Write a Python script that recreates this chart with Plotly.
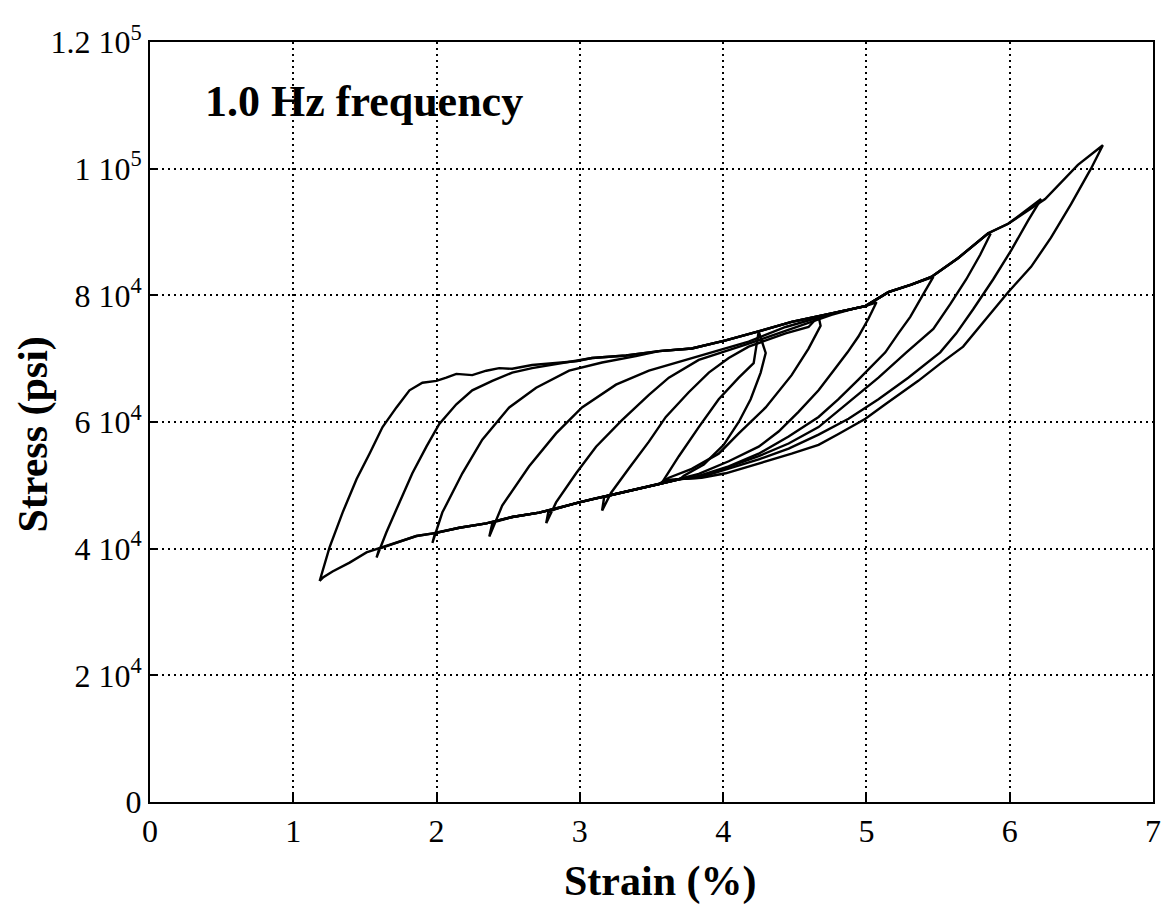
import plotly.graph_objects as go

# ---- loop extremes (strain %, stress psi) ----
min_strain = [1.184, 1.581, 1.971, 2.368, 2.765, 3.155, 3.572]
min_stress = [34900, 38600, 40900, 41900, 44000, 46000, 50400]
tip_strain = [6.650, 6.219, 5.864, 5.467, 5.070, 4.680, 4.297]
tip_stress = [103700, 95200, 89600, 82900, 78900, 75200, 70900]
hook_strain = [1.21, 1.60, 1.99, 2.39, 2.78, 3.17, 3.59]
hook_stress = [35500, 40000, 42500, 44100, 45800, 48200, 50800]

# ---- shared upper plateau (loading envelope) ----
ue_strain = [1.901, 1.999, 2.068, 2.138, 2.249, 2.347, 2.437, 2.528, 2.667, 2.806,
             2.974, 3.085, 3.322, 3.552, 3.781, 4.018, 4.248, 4.478, 4.666, 4.805,
             4.993, 5.153, 5.313, 5.453, 5.641, 5.850, 5.989, 6.247, 6.476]
ue_stress = [66200, 66500, 67000, 67600, 67400, 68100, 68500, 68400, 69000, 69300,
             69600, 70100, 70500, 71200, 71600, 72900, 74300, 75800, 76700, 77400,
             78300, 80500, 81700, 82900, 85900, 89800, 91300, 95200, 100600]

# ---- shared lower plateau (unloading envelope), right to left ----
le_strain = [3.700, 3.552, 3.433, 3.300, 3.203, 3.100, 2.994, 2.850, 2.716, 2.528,
             2.347, 2.159, 1.999, 1.859, 1.741, 1.602, 1.511, 1.393, 1.274]
le_stress = [51000, 50200, 49600, 48900, 48400, 47900, 47300, 46400, 45700, 45000,
             44000, 43300, 42500, 42000, 41100, 40000, 39400, 37800, 36400]

# ---- loading branches (from each minimum upward) ----
load1_strain = [1.253, 1.344, 1.442, 1.532, 1.623, 1.720, 1.811]
load1_stress = [40200, 45700, 51000, 55000, 59200, 62300, 65000]
load2_strain = [1.650, 1.741, 1.831, 1.929, 2.019, 2.138, 2.249, 2.389, 2.528, 2.667, 2.806]
load2_stress = [42600, 47300, 51900, 56100, 59700, 62800, 65000, 66500, 67800, 68500, 69000]
load3_strain = [2.040, 2.180, 2.319, 2.507, 2.695, 2.925, 3.155, 3.391]
load3_stress = [45700, 51900, 57200, 62300, 65400, 68100, 69400, 70400]
load4_strain = [2.458, 2.646, 2.834, 3.015, 3.252, 3.482, 3.830, 4.178, 4.436, 4.666]
load4_stress = [46800, 53000, 58200, 62300, 65900, 68100, 70400, 72700, 75000, 76500]
load5_strain = [2.834, 2.974, 3.113, 3.294, 3.482, 3.621, 3.830, 4.157, 4.436, 4.756, 4.944]
load5_stress = [47300, 51900, 56100, 60300, 64300, 67000, 69800, 72200, 74400, 76900, 78100]
load6_strain = [3.217, 3.343, 3.482, 3.600, 3.760, 3.900, 4.039, 4.178, 4.436, 4.596]
load6_stress = [48800, 52700, 56900, 60800, 64700, 67800, 70100, 71900, 74000, 75000]
load7_strain = [3.691, 3.830, 3.969, 4.109, 4.213]
load7_stress = [54600, 59200, 63600, 67000, 69300]

# ---- unloading branches (from each tip downward) ----
unload1_strain = [6.567, 6.428, 6.288, 6.149, 5.989, 5.850, 5.675, 5.520, 5.362, 5.132,
                  4.993, 4.805, 4.666, 4.478, 4.248, 4.018, 3.850]
unload1_stress = [100000, 94400, 89100, 84500, 80500, 76700, 71900, 69300, 66500, 62800,
                  60500, 58100, 56400, 55000, 53500, 51900, 51200]
unload2_strain = [6.128, 6.010, 5.884, 5.745, 5.627, 5.515, 5.292, 5.084, 4.875, 4.666,
                  4.457, 4.248, 4.039, 3.830]
unload2_stress = [91800, 87100, 82500, 77800, 74000, 71000, 67000, 63600, 60500, 58000,
                  55800, 54100, 52600, 51200]
unload3_strain = [5.794, 5.696, 5.585, 5.467, 5.279, 5.084, 4.875, 4.666, 4.457, 4.248,
                  4.039, 3.830]
unload3_stress = [86400, 82500, 78600, 74700, 71000, 67000, 63100, 59200, 56600, 54600,
                  52900, 51300]
unload4_strain = [5.397, 5.306, 5.223, 5.132, 4.944, 4.805, 4.666, 4.457, 4.248, 4.039, 3.830]
unload4_stress = [80200, 76600, 74000, 71000, 66700, 63600, 60800, 57700, 55000, 53000, 51500]
unload5_strain = [5.014, 4.944, 4.868, 4.770, 4.666, 4.526, 4.387, 4.248, 4.039, 3.830]
unload5_stress = [76300, 73500, 71000, 68100, 65000, 61600, 58500, 56100, 53800, 51800]
unload6_strain = [4.596, 4.478, 4.297, 4.109, 3.969, 3.781, 3.621]
unload6_stress = [71600, 67400, 62300, 58200, 55000, 52600, 51200]
unload7_strain = [4.262, 4.192, 4.109, 4.004, 3.865, 3.726]
unload7_stress = [67800, 63600, 60000, 56400, 53300, 51500]

x_ticks = [0, 1, 2, 3, 4, 5, 6, 7]
y_ticks = [0, 20000, 40000, 60000, 80000, 100000, 120000]
y_ticktext = ["0", "2 10<sup>4</sup>", "4 10<sup>4</sup>", "6 10<sup>4</sup>",
              "8 10<sup>4</sup>", "1 10<sup>5</sup>", "1.2 10<sup>5</sup>"]

loads = [(load1_strain, load1_stress), (load2_strain, load2_stress),
         (load3_strain, load3_stress), (load4_strain, load4_stress),
         (load5_strain, load5_stress), (load6_strain, load6_stress),
         (load7_strain, load7_stress)]
unloads = [(unload1_strain, unload1_stress), (unload2_strain, unload2_stress),
           (unload3_strain, unload3_stress), (unload4_strain, unload4_stress),
           (unload5_strain, unload5_stress), (unload6_strain, unload6_stress),
           (unload7_strain, unload7_stress)]

fig = go.Figure()
for k in range(7):
    lx, ly = loads[k]
    ux, uy = unloads[k]
    xs = [min_strain[k]] + list(lx)
    ys = [min_stress[k]] + list(ly)
    # follow upper plateau up to the tip
    for ex, ey in zip(ue_strain, ue_stress):
        if lx[-1] < ex < tip_strain[k]:
            xs.append(ex); ys.append(ey)
    xs.append(tip_strain[k]); ys.append(tip_stress[k])
    xs += list(ux); ys += list(uy)
    # follow lower plateau back to the minimum
    for ex, ey in zip(le_strain, le_stress):
        if hook_strain[k] + 0.04 < ex < ux[-1]:
            xs.append(ex); ys.append(ey)
    xs += [hook_strain[k], min_strain[k]]
    ys += [hook_stress[k], min_stress[k]]
    fig.add_trace(go.Scatter(x=xs, y=ys, mode="lines",
                             line=dict(color="black", width=2.4),
                             hoverinfo="skip", showlegend=False))

axis_common = dict(showline=True, linecolor="black", linewidth=2, mirror=True,
                   ticks="inside", ticklen=8, tickwidth=2, tickcolor="black",
                   showgrid=True, gridcolor="black", gridwidth=1.7,
                   griddash="2px,4px", zeroline=False, ticklabeloverflow="allow",
                   tickfont=dict(family="Liberation Serif", size=32, color="black"))

fig.update_xaxes(range=[0, 7], tickvals=x_ticks, **axis_common)
fig.update_yaxes(range=[0, 120000], tickvals=y_ticks, ticktext=y_ticktext, **axis_common)

fig.update_layout(
    width=1165, height=897,
    margin=dict(l=142, r=18, t=20, b=103),
    plot_bgcolor="white", paper_bgcolor="white",
    font=dict(family="Liberation Serif", size=32, color="black"),
    showlegend=False,
    annotations=[
        dict(text="1.0 Hz frequency", xref="paper", yref="paper", x=0.053, y=0.922,
             xanchor="left", yanchor="middle", showarrow=False,
             font=dict(family="Liberation Serif", size=44, color="black", weight="bold")),
        dict(text="Strain (%)", xref="paper", yref="paper", x=0.509, y=-0.105,
             xanchor="center", yanchor="middle", showarrow=False,
             font=dict(family="Liberation Serif", size=42, color="black", weight="bold")),
        dict(text="Stress (psi)", xref="paper", yref="paper", x=-0.116, y=0.483,
             xanchor="center", yanchor="middle", showarrow=False, textangle=-90,
             font=dict(family="Liberation Serif", size=42, color="black", weight="bold")),
    ],
)

fig.write_html("out.html")
